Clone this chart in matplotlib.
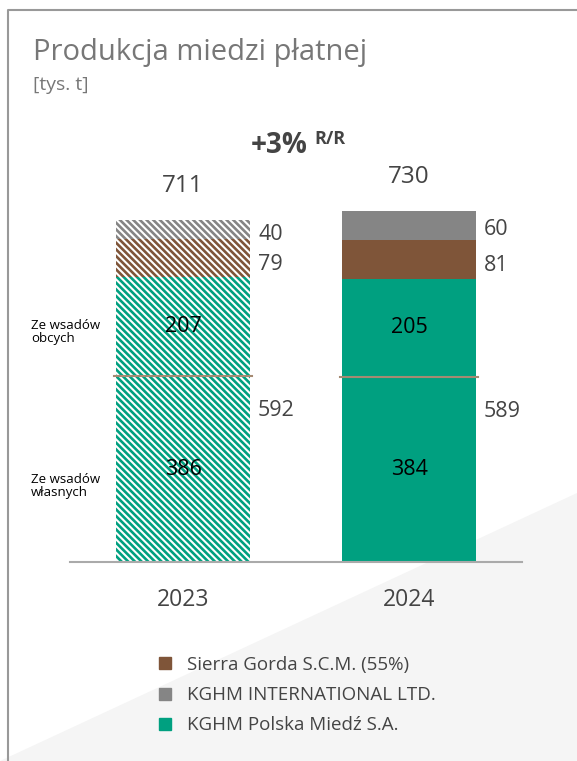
import matplotlib.pyplot as plt
from matplotlib.patches import Polygon
from matplotlib.lines import Line2D

plt.rcParams['font.family'] = ['Open Sans', 'DejaVu Sans']
plt.rcParams['hatch.linewidth'] = 1.9

# data
years = ['2023', '2024']
own_feed = [386, 384]          # ze wsadów własnych
foreign_feed = [207, 205]      # ze wsadów obcych
kghm_polska = [592, 589]
sierra_gorda = [79, 81]
kghm_intl = [40, 60]
totals = [711, 730]
change_label = '+3%'

GREEN = '#00a080'
BROWN = '#7f5539'
GRAY = '#858585'
TXT = '#444444'

fig = plt.figure(figsize=(5.77, 7.61), dpi=100)

# light grey diagonal background + card border
fig.patches.append(Polygon([(0, 0), (1, 0), (1, 268 / 761)], closed=True,
                           transform=fig.transFigure, facecolor='#f5f5f5',
                           edgecolor='none', zorder=-5))
fig.add_artist(Line2D([8 / 577, 8 / 577, 1], [0, 1 - 10 / 761, 1 - 10 / 761],
                      transform=fig.transFigure, color='#999999', lw=1.5))

ax = fig.add_axes([70 / 577, 199 / 761, 452 / 577, 385 / 761])
ax.patch.set_alpha(0)
x = [0, 1]
w = 0.594

base_s = kghm_polska
base_i = [a + b for a, b in zip(kghm_polska, sierra_gorda)]

for i in x:
    if i == 0:
        kw = dict(facecolor='white', linewidth=0, hatch='\\' * 5)
        ax.bar(i, kghm_polska[i], w, edgecolor=GREEN, **kw)
        ax.bar(i, sierra_gorda[i], w, bottom=base_s[i], edgecolor=BROWN, **kw)
        ax.bar(i, kghm_intl[i], w, bottom=base_i[i], edgecolor=GRAY, **kw)
    else:
        ax.bar(i, kghm_polska[i], w, color=GREEN, linewidth=0)
        ax.bar(i, sierra_gorda[i], w, bottom=base_s[i], color=BROWN, linewidth=0)
        ax.bar(i, kghm_intl[i], w, bottom=base_i[i], color=GRAY, linewidth=0)
    # divider between own and foreign feed
    ax.plot([i - w / 2 - 0.01, i + w / 2 + 0.01], [own_feed[i], own_feed[i]],
            color='#a58a72', lw=1.5, zorder=5)
    ax.text(i, own_feed[i] / 2, str(own_feed[i]), ha='center', va='center',
            fontsize=15.5, color='black', zorder=6)
    ax.text(i, own_feed[i] + foreign_feed[i] / 2, str(foreign_feed[i]),
            ha='center', va='center', fontsize=15.5, color='black', zorder=6)
    xr = i + w / 2 + 0.035
    ax.text(xr, own_feed[i] - 72, str(kghm_polska[i]), ha='left', va='center',
            fontsize=15.5, color=TXT)
    ax.text(xr, base_s[i] + sierra_gorda[i] / 2 - 13, str(sierra_gorda[i]),
            ha='left', va='center', fontsize=15.5, color=TXT)
    ax.text(xr, base_i[i] + kghm_intl[i] / 2 - 10, str(kghm_intl[i]),
            ha='left', va='center', fontsize=15.5, color=TXT)
    ax.text(i, totals[i] + 70, str(totals[i]), ha='center', va='center',
            fontsize=17.5, color=TXT)

ax.text(0.551, 866, change_label, ha='right', va='center', fontsize=20,
        fontweight='bold', color=TXT)
ax.text(0.582, 880, 'R/R', ha='left', va='center', fontsize=13,
        fontweight='bold', color=TXT)

ax.set_xlim(-0.5, 1.5)
ax.set_ylim(0, 800)
for s in ['top', 'right', 'left']:
    ax.spines[s].set_visible(False)
ax.spines['bottom'].set_color('#aaaaaa')
ax.spines['bottom'].set_linewidth(1.5)
ax.set_yticks([])
ax.set_xticks(x)
ax.set_xticklabels(years, fontsize=16.5, color=TXT)
ax.tick_params(axis='x', length=0, pad=19)

fig.text(33 / 577, 1 - 60 / 761, 'Produkcja miedzi płatnej', fontsize=21,
         color='#777777', va='baseline')
fig.text(33 / 577, 1 - 90 / 761, '[tys. t]', fontsize=14, color='#777777',
         va='baseline')
fig.text(31 / 577, 1 - 332 / 761, 'Ze wsadów\nobcych', fontsize=9.5,
         color='black', va='center', linespacing=1.05)
fig.text(31 / 577, 1 - 486 / 761, 'Ze wsadów\nwłasnych', fontsize=9.5,
         color='black', va='center', linespacing=1.05)

handles = [Line2D([], [], marker='s', ls='', color=c, markersize=9)
           for c in [BROWN, GRAY, GREEN]]
labels = ['Sierra Gorda S.C.M. (55%)', 'KGHM INTERNATIONAL LTD.',
          'KGHM Polska Miedź S.A.']
leg = fig.legend(handles, labels, loc='upper left',
                 bbox_to_anchor=(157 / 577, 1 - 656 / 761), frameon=False,
                 fontsize=13.5, handlelength=0.8, handletextpad=0.8,
                 labelspacing=0.65, borderpad=0, borderaxespad=0)
for t in leg.get_texts():
    t.set_color(TXT)

fig.savefig('out.png', dpi=100)
